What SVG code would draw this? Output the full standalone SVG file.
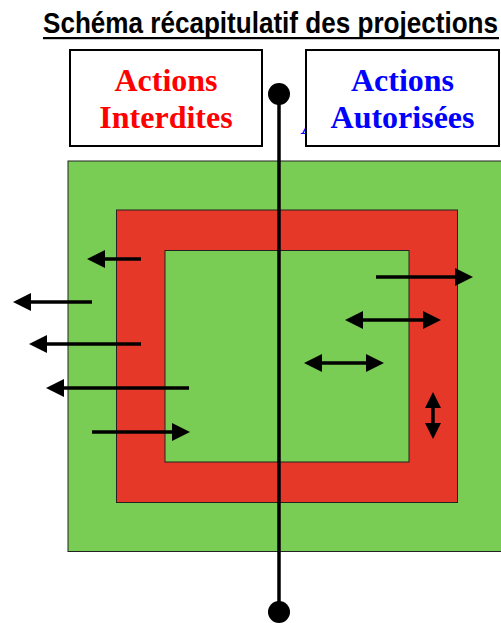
<svg xmlns="http://www.w3.org/2000/svg" width="501" height="623" viewBox="0 0 501 623">
<style>
.box{fill:#ffffff;stroke:#000000;stroke-width:2}
.lbl{font-family:"Liberation Serif","Times New Roman",serif;font-weight:bold;font-size:32px;text-anchor:middle}
.zone{stroke:#222222;stroke-width:1}
.green{fill:#79CD55}
.red{fill:#E63829}
.arr{stroke:#000000;stroke-width:3.5;fill:none}
</style>
<defs>
<marker id="ah" viewBox="0 0 18 18" markerWidth="18" markerHeight="18" refX="8" refY="9" markerUnits="userSpaceOnUse" orient="auto-start-reverse">
<path d="M0,0 L18,9 L0,18 z" fill="#000000"/>
</marker>
<marker id="ahs" viewBox="0 0 16 16" markerWidth="16" markerHeight="16" refX="7" refY="8" markerUnits="userSpaceOnUse" orient="auto-start-reverse">
<path d="M0,0 L16,8 L0,16 z" fill="#000000"/>
</marker>
</defs>
<rect width="501" height="623" fill="#ffffff"/>
<g id="title">
<text x="43" y="33" font-family="'Liberation Sans',Arial,sans-serif" font-weight="bold" font-size="29" textLength="455" lengthAdjust="spacingAndGlyphs">Schéma récapitulatif des projections</text>
<rect x="43" y="37" width="456" height="2.2" fill="#000000"/>
</g>
<g id="zones">
<rect class="zone green" x="68" y="161" width="440" height="390.5"/>
<rect class="zone red" x="116.5" y="210" width="341" height="292.5"/>
<rect class="zone green" x="165" y="250.5" width="244" height="211.5"/>
</g>
<text x="302" y="134" font-family="'Liberation Serif',serif" font-style="italic" font-size="26" fill="#0000ff">A</text>
<g id="node-interdites">
<rect class="box" x="70" y="50" width="192" height="96"/>
<text class="lbl" fill="#ff0000"><tspan x="166" y="91">Actions</tspan><tspan x="166" y="128">Interdites</tspan></text>
</g>
<g id="node-autorisees">
<rect class="box" x="306" y="50" width="193" height="96"/>
<text class="lbl" fill="#0000ff"><tspan x="402.5" y="91">Actions</tspan><tspan x="402.5" y="128">Autorisées</tspan></text>
</g>
<g id="axis">
<line x1="279" y1="94" x2="279" y2="612" stroke="#000000" stroke-width="3.5"/>
<circle cx="279" cy="94" r="11" fill="#000000"/>
<circle cx="279" cy="612" r="11" fill="#000000"/>
</g>
<g id="connectors">
<line class="arr" x1="141" y1="259" x2="97" y2="259" marker-end="url(#ah)"/>
<line class="arr" x1="92" y1="302" x2="23" y2="302" marker-end="url(#ah)"/>
<line class="arr" x1="141" y1="344" x2="39" y2="344" marker-end="url(#ah)"/>
<line class="arr" x1="189" y1="388" x2="56" y2="388" marker-end="url(#ah)"/>
<line class="arr" x1="92" y1="432" x2="180" y2="432" marker-end="url(#ah)"/>
<line class="arr" x1="376" y1="277" x2="463" y2="277" marker-end="url(#ah)"/>
<line class="arr" x1="355" y1="320" x2="431" y2="320" marker-start="url(#ah)" marker-end="url(#ah)"/>
<line class="arr" x1="314" y1="363" x2="374" y2="363" marker-start="url(#ah)" marker-end="url(#ah)"/>
<line class="arr" x1="433" y1="401" x2="433" y2="430" marker-start="url(#ahs)" marker-end="url(#ahs)"/>
</g>
</svg>
